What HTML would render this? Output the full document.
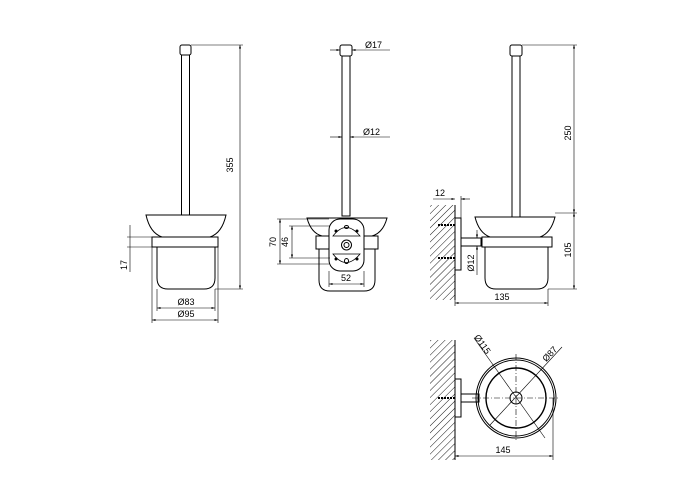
<!DOCTYPE html>
<html><head><style>
html,body{margin:0;padding:0;background:#fff;}
svg{display:block;}
text{font-family:"Liberation Sans",sans-serif;font-size:9px;fill:#000;}
</style></head><body>
<svg width="700" height="500" viewBox="0 0 700 500">
<defs>
<marker id="a" viewBox="0 0 10 10" refX="10" refY="5" markerWidth="6" markerHeight="6" orient="auto-start-reverse"><path d="M0,2 L10,5 L0,8z" fill="#000"/></marker>
<pattern id="h" width="5" height="5" patternUnits="userSpaceOnUse" patternTransform="rotate(45)"><line x1="0" y1="0" x2="0" y2="5" stroke="#000" stroke-width="0.9"/></pattern>
</defs>
<g fill="none" stroke="#000" stroke-width="1">
<!-- View 1 -->
<rect x="180" y="45" width="11" height="10" rx="2"/>
<rect x="181.5" y="55" width="8" height="160"/>
<path d="M146,215 L226,215 Q222,233 210,237 L162,237 Q150,233 146,215Z"/>
<rect x="152" y="237" width="66" height="10"/>
<path d="M157,247 L157,278 Q157,289 168,289 L204,289 Q215,289 215,278 L215,247"/>
<g stroke-width="0.6">
<line x1="191" y1="45" x2="243" y2="45"/><line x1="215" y1="289" x2="243" y2="289"/>
<line x1="240" y1="45" x2="240" y2="289" marker-start="url(#a)" marker-end="url(#a)"/>
<line x1="127" y1="237" x2="152" y2="237"/><line x1="127" y1="247" x2="152" y2="247"/>
<line x1="130" y1="225" x2="130" y2="272"/>
<line x1="157" y1="289" x2="157" y2="311"/><line x1="215" y1="289" x2="215" y2="311"/>
<line x1="152" y1="247" x2="152" y2="323"/><line x1="218" y1="247" x2="218" y2="323"/>
<line x1="157" y1="308" x2="215" y2="308" marker-start="url(#a)" marker-end="url(#a)"/>
<line x1="152" y1="320" x2="218" y2="320" marker-start="url(#a)" marker-end="url(#a)"/>
</g>
<!-- View 2 -->
<rect x="340" y="45" width="12" height="11" rx="2"/>
<rect x="342" y="56" width="8" height="160"/>
<path d="M307,218 L387,218 Q383,233 372,236 L322,236 Q311,233 307,218Z"/>
<rect x="316" y="236" width="62" height="13"/>
<path d="M319,249 L319,280 Q319,291 330,291 L364,291 Q375,291 375,280 L375,249" />
<rect x="329" y="219" width="35" height="52" rx="11" fill="#fff"/>
<path d="M333,236 Q346,219 360,236 Z" stroke-width="0.8"/>
<path d="M333,254 Q346,271 360,254 Z" stroke-width="0.8"/>
<circle cx="346.5" cy="245" r="5"/><circle cx="346.5" cy="245" r="2.5"/>
<ellipse cx="346.5" cy="227" rx="2" ry="1.5"/><ellipse cx="346.5" cy="261" rx="2" ry="2.5"/>
<circle cx="336" cy="231" r="1" fill="#000"/><circle cx="357" cy="231" r="1" fill="#000"/>
<circle cx="336" cy="259" r="1" fill="#000"/><circle cx="357" cy="259" r="1" fill="#000"/>
<g stroke-width="0.6">
<line x1="330" y1="50" x2="340" y2="50" marker-end="url(#a)"/><line x1="352" y1="50" x2="390" y2="50" marker-start="url(#a)"/>
<line x1="330" y1="137" x2="342" y2="137" marker-end="url(#a)"/><line x1="350" y1="137" x2="390" y2="137" marker-start="url(#a)"/>
<line x1="277" y1="219" x2="329" y2="219"/><line x1="277" y1="264" x2="329" y2="264"/>
<line x1="280" y1="219" x2="280" y2="264" marker-start="url(#a)" marker-end="url(#a)"/>
<line x1="289" y1="226" x2="330" y2="226"/><line x1="289" y1="258" x2="330" y2="258"/>
<line x1="292" y1="226" x2="292" y2="258" marker-start="url(#a)" marker-end="url(#a)"/>
<line x1="329" y1="271" x2="329" y2="287"/><line x1="364" y1="271" x2="364" y2="287"/>
<line x1="329" y1="284" x2="364" y2="284" marker-start="url(#a)" marker-end="url(#a)"/>
</g>
<!-- View 3 -->
<rect x="430" y="205" width="25" height="95" fill="url(#h)" stroke="none"/>
<line x1="455" y1="205" x2="455" y2="300"/>
<rect x="455" y="218" width="6" height="52"/>
<rect x="461" y="238" width="20" height="8"/>
<line x1="438" y1="225" x2="455" y2="225" stroke-width="2" stroke-dasharray="2,1"/>
<line x1="438" y1="258" x2="455" y2="258" stroke-width="2" stroke-dasharray="2,1"/>
<rect x="512" y="45" width="8" height="172"/>
<rect x="510" y="45" width="12" height="11" rx="2" fill="#fff"/>
<path d="M475,217 L555,217 Q551,233 540,237 L490,237 Q479,233 475,217Z"/>
<rect x="482" y="237" width="70" height="10"/>
<path d="M485,247 L485,278 Q485,289 496,289 L537,289 Q548,289 548,278 L548,247"/>
<g stroke-width="0.6">
<line x1="522" y1="45" x2="577" y2="45"/><line x1="555" y1="213" x2="577" y2="213"/><line x1="548" y1="289" x2="577" y2="289"/>
<line x1="574" y1="45" x2="574" y2="213" marker-start="url(#a)" marker-end="url(#a)"/>
<line x1="574" y1="213" x2="574" y2="289" marker-start="url(#a)" marker-end="url(#a)"/>
<line x1="461" y1="196" x2="461" y2="218"/>
<line x1="433" y1="199" x2="455" y2="199" marker-end="url(#a)"/><line x1="461" y1="199" x2="470" y2="199" marker-start="url(#a)"/>
<line x1="477" y1="230" x2="477" y2="238" marker-end="url(#a)"/><line x1="477" y1="246" x2="477" y2="275" marker-start="url(#a)"/>
<line x1="455" y1="300" x2="455" y2="306"/><line x1="548" y1="289" x2="548" y2="306"/>
<line x1="455" y1="303" x2="548" y2="303" marker-start="url(#a)" marker-end="url(#a)"/>
</g>
<!-- View 4 -->
<rect x="430" y="340" width="25" height="120" fill="url(#h)" stroke="none"/>
<line x1="455" y1="340" x2="455" y2="460"/>
<rect x="455" y="379" width="6" height="38"/>
<rect x="461" y="394" width="18" height="8"/>
<line x1="438" y1="398" x2="455" y2="398" stroke-width="2" stroke-dasharray="2,1"/>
<circle cx="516" cy="398" r="40"/><circle cx="516" cy="398" r="38"/><circle cx="516" cy="398" r="30" stroke-width="1.4"/>
<circle cx="516" cy="398" r="6"/>
<g stroke-width="0.6">
<line x1="516" y1="354" x2="516" y2="442" stroke-dasharray="6,2,1,2"/>
<line x1="472" y1="398" x2="560" y2="398" stroke-dasharray="6,2,1,2"/>
<line x1="474" y1="338" x2="545" y2="438"/>
<line x1="490" y1="425" x2="562" y2="347"/>
<line x1="553" y1="398" x2="553" y2="460"/>
<line x1="455" y1="456" x2="553" y2="456" marker-start="url(#a)" marker-end="url(#a)"/>
</g>
</g>
<text x="233" y="165" transform="rotate(-90 233 165)" text-anchor="middle">355</text>
<text x="127" y="265" transform="rotate(-90 127 265)" text-anchor="middle">17</text>
<text x="186" y="305" text-anchor="middle">Ø83</text>
<text x="186" y="317" text-anchor="middle">Ø95</text>
<text x="365" y="48">Ø17</text>
<text x="363" y="135">Ø12</text>
<text x="276" y="242" transform="rotate(-90 276 242)" text-anchor="middle">70</text>
<text x="288" y="242" transform="rotate(-90 288 242)" text-anchor="middle">46</text>
<text x="346" y="281" text-anchor="middle">52</text>
<text x="571" y="133" transform="rotate(-90 571 133)" text-anchor="middle">250</text>
<text x="571" y="250" transform="rotate(-90 571 250)" text-anchor="middle">105</text>
<text x="440" y="196" text-anchor="middle">12</text>
<text x="474" y="263" transform="rotate(-90 474 263)" text-anchor="middle">Ø12</text>
<text x="502" y="300" text-anchor="middle">135</text>
<text x="480" y="346" transform="rotate(55 480 346)" text-anchor="middle">Ø115</text>
<text x="552" y="356" transform="rotate(-47 552 356)" text-anchor="middle">Ø87</text>
<text x="503" y="453" text-anchor="middle">145</text>
</svg>
</body></html>
